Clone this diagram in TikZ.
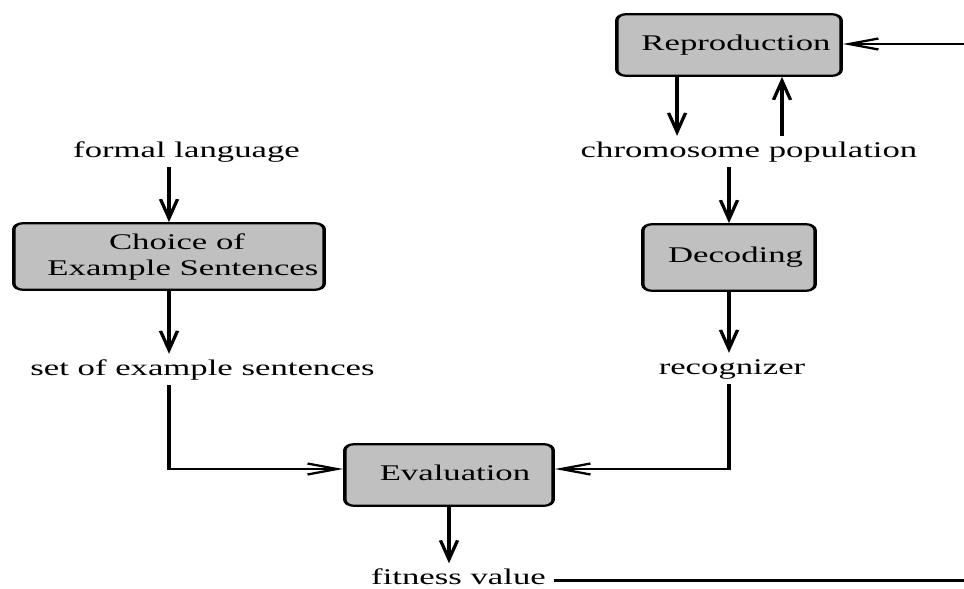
\documentclass[tikz,border=0pt]{standalone}
\usepackage{fontspec}
\setmainfont{Liberation Serif}
\usetikzlibrary{arrows.meta}
\definecolor{boxfill}{RGB}{192,192,192}
\begin{document}
\begin{tikzpicture}[x=1pt,y=-1pt,
  every node/.style={font=\fontsize{22.4}{26}\selectfont},
  proc/.style={draw, line width=2.2pt, fill=boxfill, rounded corners=6pt,
    inner sep=0pt, align=center},
  oneline/.style={text height=15.3pt, text depth=4.9pt},
  term/.style={inner sep=5pt, text height=16pt, text depth=5pt},
  flow/.style={line width=2.2pt, -{Straight Barb[length=19pt,width=11pt]}},
  wire/.style={line width=2.2pt}
]
\useasboundingbox (0,0) rectangle (964,589);

% The chart is drawn narrow and widened by 1.55 on the canvas.
\begin{scope}[transform canvas={xscale=1.55}, x=0.64516pt]
% process boxes
\node[proc, oneline, minimum width=144.7pt, minimum height=61.6pt] (repro) at (729,45)
  {\hspace*{9pt}Reproduction};
\node[proc, oneline, minimum width=111.1pt, minimum height=66.6pt] (decod) at (729,257.5)
  {\hspace*{8.4pt}Decoding};
\node[proc, oneline, minimum width=134.4pt, minimum height=61.6pt] (eval) at (449,475)
  {\hspace*{7.7pt}Evaluation};
\node[proc, minimum width=200.2pt, minimum height=66.6pt] (choice) at (169,256.5)
  {\hspace*{10.3pt}Choice of\\\hspace*{18pt}Example Sentences};

% data labels
\node[term] (formal) at (186.5,151.5) {formal language};
\node[term] (chrom) at (749,151.5) {chromosome population};
\node[term] (sets) at (202.5,369.5) {set of example sentences};
\node[term] (recog) at (732,368.5) {recognizer};
\node[term, inner ysep=1pt, text height=20pt, text depth=0pt] (fitness) at (458.5,574.5) {fitness value};

% loose ends of the feedback loop
\coordinate (fbin) at (964,44);
\coordinate (fbout) at (964,580.5);
\coordinate (rdown) at ([xshift=-33.5pt]repro.south);
\coordinate (rup) at ([xshift=34.2pt]repro.south);

% connectors
\draw[flow] (formal.south -| choice.north) -- (choice.north);
\draw[flow] (choice.south) -- (sets.north -| choice.south);
\draw[flow] (sets.south -| choice.south) |- ([yshift=6pt]eval.west);
\draw[flow] (rdown) -- (chrom.north -| rdown);
\draw[flow] (chrom.north -| rup) -- (rup);
\draw[flow] (chrom.south -| decod.north) -- (decod.north);
\draw[flow] (decod.south) -- (recog.north -| decod.south);
\draw[flow] (recog.south -| decod.south) |- ([yshift=6pt]eval.east);
\draw[flow] (eval.south) -- (fitness.north -| eval.south);
\draw[flow] (fbin) -- (fbin -| repro.east);
\draw[wire] (fitness.east |- fbout) -- (fbout);
\end{scope}
\end{tikzpicture}
\end{document}
